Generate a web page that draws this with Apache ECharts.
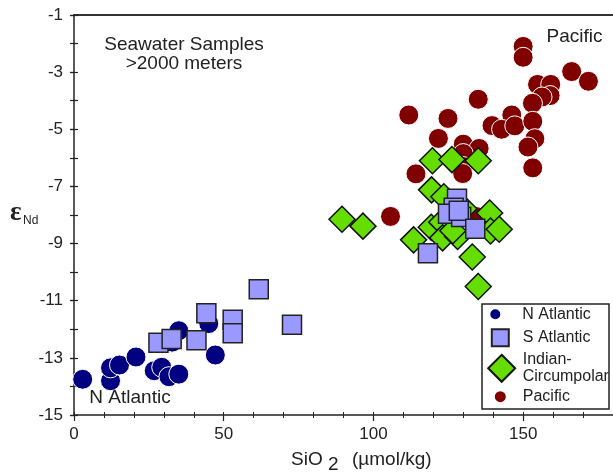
<!DOCTYPE html>
<html>
<head>
<meta charset="utf-8">
<script src="https://cdn.jsdelivr.net/npm/echarts@6/dist/echarts.min.js"></script>
<style>
  html, body { margin: 0; padding: 0; background: #fff; }
  #chart { width: 613px; height: 472px; }
</style>
</head>
<body>
<div id="chart"></div>
<script>
// Dissolved silica (µmol/kg) vs. εNd for deep seawater samples (>2000 m)
const nAtlantic = [
  [2.9, -13.75], [12.2, -13.8], [12.2, -13.35], [15.2, -13.25], [20.7, -12.97],
  [26.8, -13.45], [29.3, -13.33], [31.7, -13.66], [35.0, -13.57], [35.0, -12.05],
  [32.8, -12.45], [45.0, -11.8], [47.2, -12.9]
];
const sAtlantic = [
  [28.2, -12.47], [32.6, -12.34], [40.9, -12.38], [44.2, -11.44], [53.0, -11.67],
  [53.0, -12.14], [61.7, -10.6], [72.8, -11.84], [127.9, -7.43], [126.8, -7.75],
  [124.9, -7.96], [129.3, -8.07], [128.5, -7.85], [134.0, -8.48], [118.2, -9.34]
];
const indianCircumpolar = [
  [89.5, -8.15], [96.5, -8.39], [119.7, -6.1], [126.2, -6.06], [135.0, -6.1],
  [119.4, -7.12], [123.5, -7.36], [130.2, -7.78], [138.8, -7.93], [119.3, -8.43],
  [122.8, -8.25], [113.4, -8.87], [123.1, -8.8], [128.1, -8.75], [126.5, -8.55],
  [139.1, -8.56], [142.0, -8.5], [133.0, -9.47], [135.0, -10.5]
];
const pacific = [
  [150.0, -2.1], [150.0, -2.48], [166.2, -2.98], [171.8, -3.32], [154.8, -3.43],
  [159.2, -3.43], [159.0, -3.82], [156.3, -3.87], [153.1, -4.09], [135.0, -3.95],
  [111.8, -4.5], [124.9, -4.62], [146.2, -4.5], [139.6, -4.87], [142.8, -5.0],
  [147.2, -4.88], [153.2, -4.72], [153.9, -5.33], [151.6, -5.62], [153.2, -6.35],
  [121.7, -5.32], [130.0, -5.52], [135.3, -5.67], [130.0, -5.85], [129.8, -6.3],
  [114.2, -6.56], [129.8, -6.55], [105.7, -8.05], [134.2, -8.05]
];

const seriesNames = ['N Atlantic', 'S Atlantic', 'Indian-Circumpolar', 'Pacific'];
const xRange = [0, 180];
const yRange = [-15, -1];
const xMajorStep = 50;
const xMinorStep = 10;
const yMajorStep = 2;
const yMinorStep = 1;

const FONT = 'Liberation Sans, Arial, sans-serif';
const INK = '#222';

const chart = echarts.init(document.getElementById('chart'), null, { renderer: 'canvas' });

function plainAxis(extra) {
  return Object.assign({
    type: 'value',
    splitLine: { show: false },
    axisLabel: { show: false },
    axisLine: { show: false },
    axisTick: { show: false }
  }, extra);
}

function scatter(name, data, symbol, size, itemStyle, z) {
  return {
    type: 'scatter',
    name: name,
    data: data,
    symbol: symbol,
    symbolSize: size,
    itemStyle: itemStyle,
    z: z,
    xAxisIndex: 0,
    yAxisIndex: 0,
    emphasis: { disabled: true },
    silent: true
  };
}

function legendItem(name, left, top, size, padLeft) {
  return {
    data: [name],
    orient: 'vertical',
    left: left,
    top: top,
    padding: 0,
    itemWidth: size,
    itemHeight: size,
    selectedMode: false,
    z: 20,
    formatter: function (n) { return n === 'Indian-Circumpolar' ? 'Indian-\nCircumpolar' : n; },
    textStyle: { fontFamily: FONT, fontSize: 16, lineHeight: 17, color: INK, padding: [0, 0, 0, padLeft] }
  };
}

chart.setOption({
  animation: false,
  backgroundColor: '#fff',
  grid: { left: 74, top: 15, width: 545, height: 400, containLabel: false },
  xAxis: [
    plainAxis({
      min: xRange[0], max: xRange[1], interval: xMajorStep, position: 'bottom',
      axisLine: { show: true, lineStyle: { color: INK, width: 1.5 } },
      axisTick: { show: true, length: 6, lineStyle: { color: INK, width: 1.2 } },
      axisLabel: { show: true, showMaxLabel: false, margin: 11, fontSize: 17, color: INK, fontFamily: FONT }
    }),
    plainAxis({
      min: xRange[0], max: xRange[1], interval: xMinorStep, position: 'bottom',
      axisTick: { show: true, inside: true, length: 3, lineStyle: { color: INK, width: 1 } }
    }),
    plainAxis({
      min: xRange[0], max: xRange[1], interval: xMinorStep, position: 'bottom',
      axisTick: { show: true, length: 3, lineStyle: { color: INK, width: 1 } }
    }),
    plainAxis({
      min: xRange[0], max: xRange[1], position: 'top',
      axisLine: { show: true, lineStyle: { color: '#333', width: 2 } }
    })
  ],
  yAxis: [
    plainAxis({
      min: yRange[0], max: yRange[1], interval: yMajorStep, position: 'left',
      axisLine: { show: true, lineStyle: { color: INK, width: 1.5 } },
      axisTick: { show: true, length: 4, lineStyle: { color: INK, width: 1.2 } },
      axisLabel: { show: true, margin: 11, fontSize: 17, color: INK, fontFamily: FONT }
    }),
    plainAxis({
      min: yRange[0], max: yRange[1], interval: yMinorStep, position: 'left',
      axisTick: { show: true, inside: true, length: 4, lineStyle: { color: INK, width: 1.2 } }
    }),
    plainAxis({
      min: yRange[0], max: yRange[1], interval: yMinorStep, position: 'left',
      axisTick: { show: true, length: 4, lineStyle: { color: INK, width: 1.2 } }
    })
  ],
  legend: [
    legendItem(seriesNames[0], 488.3, 305.8, 12, 16),
    legendItem(seriesNames[1], 490.8, 328.2, 17, 9),
    legendItem(seriesNames[2], 487.2, 351.3, 27, 2.5),
    legendItem(seriesNames[3], 492.8, 388.2, 13, 11)
  ],
  graphic: [
    {
      type: 'rect', z: 15,
      shape: { x: 482, y: 304, width: 127, height: 105 },
      style: { fill: '#fff', stroke: '#222', lineWidth: 1.5 }
    },
    {
      type: 'text', z: 10, x: 184, y: 54.5,
      style: {
        text: 'Seawater Samples\n>2000 meters', font: '19px ' + FONT, lineHeight: 19,
        fill: INK, align: 'center', verticalAlign: 'middle'
      }
    },
    {
      type: 'text', z: 10, x: 574.5, y: 37,
      style: { text: 'Pacific', font: '19px ' + FONT, fill: INK, align: 'center', verticalAlign: 'middle' }
    },
    {
      type: 'text', z: 10, x: 130, y: 398,
      style: { text: 'N Atlantic', font: '19px ' + FONT, fill: INK, align: 'center', verticalAlign: 'middle' }
    },
    {
      type: 'text', z: 10, x: 291, y: 460,
      style: { text: 'SiO', font: '19px ' + FONT, fill: INK, align: 'left', verticalAlign: 'middle' }
    },
    {
      type: 'text', z: 10, x: 328, y: 465,
      style: { text: '2', font: '19px ' + FONT, fill: INK, align: 'left', verticalAlign: 'middle' }
    },
    {
      type: 'text', z: 10, x: 352, y: 460,
      style: { text: '(µmol/kg)', font: '19px ' + FONT, fill: INK, align: 'left', verticalAlign: 'middle' }
    },
    {
      type: 'text', z: 10, x: 10, y: 213,
      style: { text: 'ε', font: 'bold 27px Liberation Serif, DejaVu Serif, serif', fill: INK, align: 'left', verticalAlign: 'middle' }
    },
    {
      type: 'text', z: 10, x: 23, y: 220.5,
      style: { text: 'Nd', font: '12px ' + FONT, fill: INK, align: 'left', verticalAlign: 'middle' }
    }
  ],
  series: [
    scatter(seriesNames[3], pacific, 'circle', 20,
      { color: '#800000', borderColor: '#fff', borderWidth: 1, opacity: 1 }, 2),
    scatter(seriesNames[0], nAtlantic, 'circle', 20,
      { color: '#000080', borderColor: '#fff', borderWidth: 1, opacity: 1 }, 3),
    scatter(seriesNames[2], indianCircumpolar, 'diamond', 26,
      { color: '#66dd00', borderColor: '#111', borderWidth: 1.5, opacity: 1 }, 4),
    scatter(seriesNames[1], sAtlantic, 'rect', 19,
      { color: '#9999ff', borderColor: '#222', borderWidth: 1.5, opacity: 1 }, 5)
  ]
});
</script>
</body>
</html>
